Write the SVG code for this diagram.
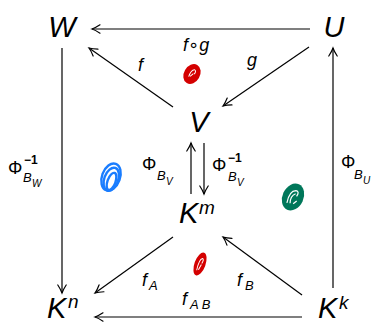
<svg xmlns="http://www.w3.org/2000/svg" width="380" height="324" viewBox="0 0 380 324">
<defs>
<marker id="ah" markerUnits="userSpaceOnUse" markerWidth="12" markerHeight="12" viewBox="-10 -6 12 12" refX="0" refY="0" orient="auto">
<path d="M -8 -4.2 Q -3.5 -1.2 0 0 Q -3.5 1.2 -8 4.2" fill="none" stroke="#000" stroke-width="1.2" stroke-linecap="round"/>
</marker>
</defs>
<style>
.n{font-family:"Liberation Sans","DejaVu Sans",sans-serif;font-style:italic;font-size:29px;fill:#000}
.sup{font-family:"Liberation Sans","DejaVu Sans",sans-serif;font-style:italic;font-size:19px;fill:#000}
.l{font-family:"Liberation Sans","DejaVu Sans",sans-serif;font-style:italic;font-size:18px;fill:#000}
.phi{font-family:"Liberation Sans","DejaVu Sans",sans-serif;font-size:18px;fill:#000}
.s1{font-family:"Liberation Sans","DejaVu Sans",sans-serif;font-style:italic;font-size:13px;fill:#000}
.s2{font-family:"Liberation Sans","DejaVu Sans",sans-serif;font-style:italic;font-size:10px;fill:#000}
.m1{font-family:"Liberation Sans","DejaVu Sans",sans-serif;font-weight:bold;font-size:12px;fill:#000}
.e{fill:none;stroke:#000;stroke-width:1.2;marker-end:url(#ah)}
</style>
<g id="connectors">
<line class="e" x1="310" y1="29" x2="92" y2="29"/>
<line class="e" x1="173" y1="107" x2="89" y2="48"/>
<line class="e" x1="309" y1="47" x2="223" y2="106"/>
<line class="e" x1="62" y1="48" x2="62" y2="293"/>
<line class="e" x1="333" y1="288" x2="333" y2="48"/>
<line class="e" x1="191" y1="194" x2="191" y2="143"/>
<line class="e" x1="204" y1="143" x2="204" y2="194"/>
<line class="e" x1="173" y1="237" x2="95" y2="293"/>
<line class="e" x1="302" y1="295" x2="223" y2="237"/>
<line class="e" x1="302" y1="317" x2="95" y2="317"/>
</g>
<g id="labels">
<text class="l" x="183" y="51">f∘g</text>
<text class="l" x="138" y="71">f</text>
<text class="l" x="247" y="66">g</text>
<text class="phi" x="8" y="174">Φ</text><text class="m1" x="24" y="164">−1</text><text class="s1" x="23" y="182">B</text><text class="s2" x="32" y="187">W</text>
<text class="phi" x="142" y="170">Φ</text><text class="s1" x="157" y="180">B</text><text class="s2" x="166" y="185">V</text>
<text class="phi" x="212" y="171">Φ</text><text class="m1" x="228" y="162">−1</text><text class="s1" x="228" y="181">B</text><text class="s2" x="237" y="186">V</text>
<text class="phi" x="341" y="168">Φ</text><text class="s1" x="354" y="179">B</text><text class="s2" x="363" y="184">U</text>
<text class="l" x="142" y="286">f</text><text class="s1" x="149" y="290">A</text>
<text class="l" x="182" y="305">f</text><text class="s1" x="190" y="309">A B</text>
<text class="l" x="237" y="286">f</text><text class="s1" x="245" y="290">B</text>
</g>
<g id="W"><text class="n" x="62" y="37" text-anchor="middle">W</text></g>
<g id="U"><text class="n" x="334" y="37" text-anchor="middle">U</text></g>
<g id="V"><text class="n" x="199" y="132" text-anchor="middle">V</text></g>
<g id="Km"><text class="n" x="179" y="223">K</text><text class="sup" x="199" y="214">m</text></g>
<g id="Kn"><text class="n" x="47" y="318">K</text><text class="sup" x="68" y="308">n</text></g>
<g id="Kk"><text class="n" x="318" y="318">K</text><text class="sup" x="339" y="309">k</text></g>
<g id="scribbles">
<g transform="translate(192,74) rotate(30)">
<ellipse rx="7" ry="9.5" fill="#d40000" stroke="#d40000" stroke-width="2"/>
<path d="M -1.5 4 Q -3 -3 0 -5 Q 2.5 -5 2 -1 M -0.5 3 L 1 -1" fill="none" stroke="#fff" stroke-width="1"/>
</g>
<g transform="translate(111,177) rotate(20)" fill="none" stroke="#1a7dff" stroke-width="2.4">
<ellipse rx="9" ry="14"/>
<ellipse cx="1" cy="2" rx="7" ry="12"/>
<ellipse cx="2" cy="4" rx="4" ry="9"/>
</g>
<g transform="translate(293,197) rotate(25)">
<ellipse rx="10.5" ry="14" fill="#00775a"/>
<path d="M -3 8 Q -6 -4 0 -7 Q 4 -8 3 -2 M 0 7 Q -3 0 1 -4 M 3 6 L 5 2" fill="none" stroke="#fff" stroke-width="1.2"/>
</g>
<g transform="translate(200,264) rotate(20)">
<ellipse rx="5.5" ry="12" fill="#d40000"/>
<path d="M -1 7 Q -2.5 -4 0.5 -6 Q 2.5 -6 1.5 -1 M 0.5 6 L 1.5 0" fill="none" stroke="#fff" stroke-width="1"/>
</g>
</g>
</svg>
